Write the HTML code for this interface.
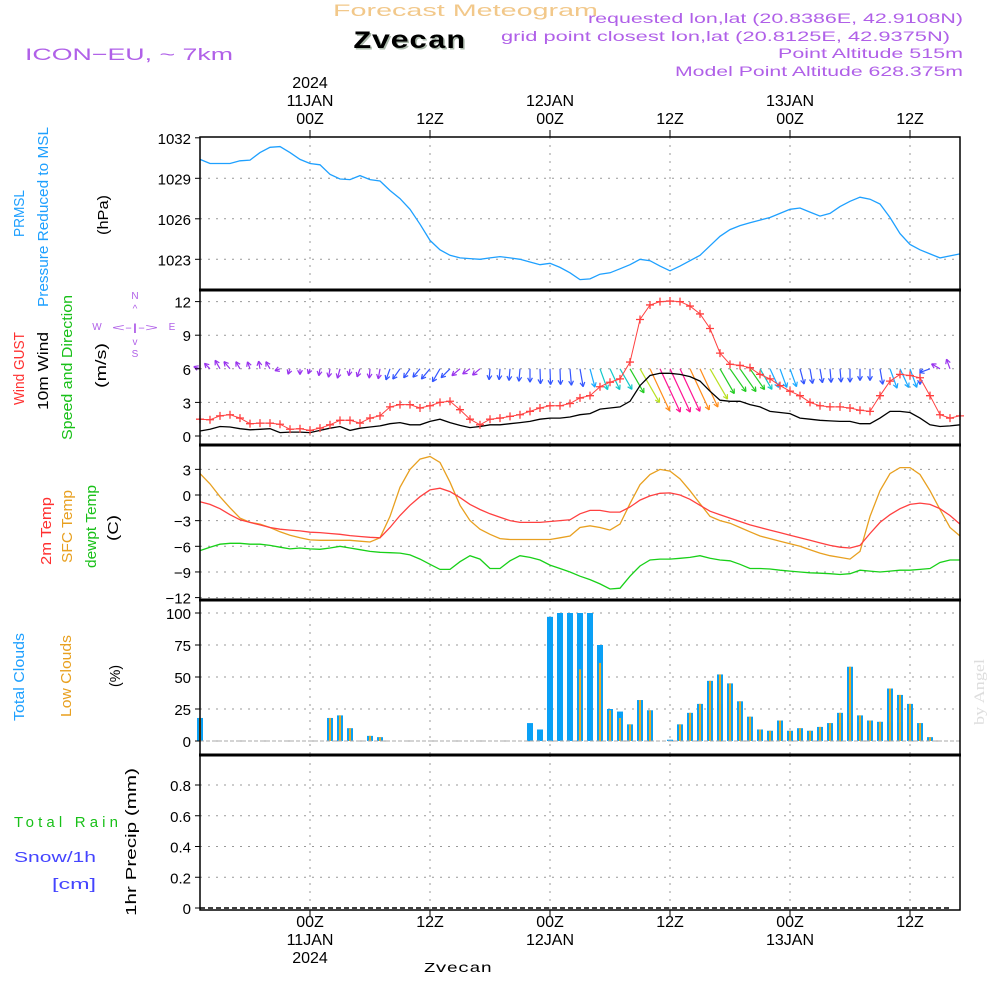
<!DOCTYPE html>
<html><head><meta charset="utf-8">
<style>
html,body{margin:0;padding:0;background:#fff;}
svg{display:block;font-family:"Liberation Sans",sans-serif;}
</style></head>
<body>
<svg id="chart" width="1000" height="1000" viewBox="0 0 1000 1000" xmlns="http://www.w3.org/2000/svg">
<rect width="1000" height="1000" fill="#fff"/>
<text x="333" y="16" font-size="17" fill="#f2c88a" textLength="265" lengthAdjust="spacingAndGlyphs">Forecast Meteogram</text>
<text x="353" y="48" font-size="25" font-weight="bold" font-family="Liberation Mono, monospace" fill="#aab8aa" textLength="112" lengthAdjust="spacingAndGlyphs" transform="translate(1.5,1.5)">Zvecan</text>
<text x="353" y="48" font-size="25" font-weight="bold" font-family="Liberation Mono, monospace" fill="#000" textLength="112" lengthAdjust="spacingAndGlyphs">Zvecan</text>
<text x="25" y="60" font-size="17" fill="#b060e8" textLength="208" lengthAdjust="spacingAndGlyphs">ICON−EU, ~ 7km</text>
<g fill="#b060e8" font-size="14" text-anchor="end">
<text x="963" y="23" textLength="375" lengthAdjust="spacingAndGlyphs">requested lon,lat (20.8386E, 42.9108N)</text>
<text x="950" y="41" textLength="449" lengthAdjust="spacingAndGlyphs">grid point closest lon,lat (20.8125E, 42.9375N)</text>
<text x="963" y="58" textLength="185" lengthAdjust="spacingAndGlyphs">Point Altitude 515m</text>
<text x="963" y="76" textLength="288" lengthAdjust="spacingAndGlyphs">Model Point Altitude 628.375m</text>
</g>
<g id="grid"></g>
<g id="series"></g>
<g id="frame"></g>
<g id="labels" font-size="16" fill="#000"></g>
</svg>
<script>
// ===== data (hourly, first point = 13Z 10 JAN, x-step = 1 hour) =====
const startHour = -11; // hours relative to 00Z 11JAN
const pressure = [1030.4,1030.1,1030.1,1030.1,1030.3,1030.35,1030.9,1031.3,1031.35,1030.9,1030.4,1030.1,1030.0,1029.3,1028.95,1028.9,1029.2,1028.9,1028.8,1028.1,1027.5,1026.7,1025.6,1024.4,1023.7,1023.3,1023.1,1023.05,1023.0,1023.1,1023.2,1023.1,1023.0,1022.8,1022.6,1022.7,1022.4,1022.0,1021.5,1021.55,1021.9,1022.0,1022.3,1022.6,1023.0,1022.9,1022.5,1022.15,1022.5,1022.9,1023.3,1024.0,1024.7,1025.2,1025.5,1025.7,1025.9,1026.1,1026.4,1026.7,1026.8,1026.5,1026.2,1026.4,1026.9,1027.3,1027.6,1027.45,1027.1,1026.1,1024.9,1024.1,1023.7,1023.4,1023.1,1023.25,1023.4];
const windGust = [1.5,1.45,1.8,1.9,1.6,1.1,1.15,1.15,1.05,0.6,0.65,0.5,0.7,1.0,1.4,1.4,1.15,1.6,1.8,2.6,2.8,2.8,2.5,2.7,3.0,3.1,2.35,1.5,1.0,1.5,1.6,1.75,1.9,2.2,2.5,2.7,2.7,2.9,3.4,3.6,4.4,4.8,5.1,6.6,10.4,11.7,12.0,12.05,12.0,11.6,10.9,9.6,7.4,6.4,6.3,6.1,5.5,5.1,4.5,4.0,3.6,3.0,2.7,2.6,2.6,2.5,2.3,2.2,3.6,4.9,5.5,5.4,5.2,3.6,1.9,1.6,1.8];
const windSpeed = [0.45,0.6,0.85,0.8,0.65,0.55,0.6,0.65,0.3,0.35,0.35,0.3,0.5,0.7,0.85,0.5,0.7,0.8,0.9,1.1,1.2,1.0,1.0,1.3,1.5,1.2,0.95,0.75,0.85,1.0,1.0,1.1,1.2,1.3,1.5,1.6,1.6,1.7,1.9,2.0,2.4,2.5,2.6,3.1,4.5,5.4,5.6,5.6,5.5,5.3,4.9,4.0,3.2,3.1,3.1,2.8,2.6,2.2,2.1,2.0,1.6,1.5,1.4,1.35,1.3,1.3,1.1,1.1,1.6,2.2,2.2,2.1,1.6,1.0,0.85,0.9,1.0];
const windDir = [290,315,330,320,330,340,350,330,250,200,180,200,190,190,195,190,200,185,190,200,215,215,220,220,210,225,230,235,230,185,185,185,185,180,178,178,178,175,170,165,160,155,150,150,150,155,155,155,155,155,155,150,150,145,145,145,150,155,160,160,165,170,170,175,175,180,180,180,170,160,155,160,180,250,300,340];
const temp2m = [-0.8,-1.1,-1.6,-2.3,-2.9,-3.2,-3.5,-3.8,-4.0,-4.1,-4.2,-4.35,-4.4,-4.5,-4.6,-4.75,-4.85,-4.95,-5.0,-3.8,-2.4,-1.2,-0.2,0.6,0.8,0.4,-0.3,-1.1,-1.7,-2.2,-2.6,-3.0,-3.2,-3.2,-3.2,-3.1,-3.0,-2.9,-2.2,-1.8,-1.8,-2.0,-2.0,-1.4,-0.6,-0.1,0.2,0.25,0.0,-0.5,-1.2,-1.9,-2.3,-2.7,-3.1,-3.5,-3.8,-4.1,-4.4,-4.7,-5.0,-5.3,-5.6,-5.9,-6.1,-6.2,-5.9,-4.5,-3.2,-2.3,-1.6,-1.1,-0.95,-1.1,-1.6,-2.4,-3.4];
const tempSfc = [2.5,1.3,-0.2,-1.5,-2.7,-3.2,-3.4,-3.8,-4.3,-4.7,-5.0,-5.25,-5.3,-5.3,-5.3,-5.3,-5.4,-5.5,-5.0,-2.5,0.9,3.0,4.2,4.5,3.8,1.5,-1.2,-3.0,-4.0,-4.6,-5.1,-5.2,-5.2,-5.2,-5.2,-5.2,-5.0,-4.8,-3.8,-3.6,-3.8,-4.1,-3.4,-1.0,1.2,2.4,3.0,2.8,1.9,0.5,-1.0,-2.5,-3.0,-3.3,-3.8,-4.3,-4.8,-5.1,-5.4,-5.7,-6.0,-6.4,-6.8,-7.1,-7.3,-7.5,-6.6,-2.5,0.5,2.5,3.2,3.2,2.4,0.5,-1.7,-3.8,-4.8];
const dewpt = [-6.5,-6.1,-5.75,-5.65,-5.65,-5.75,-5.75,-5.9,-6.1,-6.3,-6.2,-6.3,-6.35,-6.2,-6.0,-6.2,-6.4,-6.6,-6.7,-6.75,-6.8,-7.0,-7.5,-8.1,-8.7,-8.7,-7.8,-7.1,-7.5,-8.6,-8.6,-7.7,-7.1,-7.3,-7.6,-8.2,-8.6,-9.0,-9.5,-9.9,-10.4,-11.0,-10.9,-9.5,-8.3,-7.6,-7.5,-7.5,-7.4,-7.3,-7.1,-7.4,-7.6,-7.7,-8.1,-8.6,-8.6,-8.65,-8.8,-8.9,-9.0,-9.1,-9.15,-9.2,-9.3,-9.2,-8.8,-8.9,-9.0,-8.9,-8.8,-8.8,-8.7,-8.6,-7.9,-7.6,-7.6];
const totalClouds = [18,0,0,0,0,0,0,0,0,0,0,0,0,18,20,10,0,4,3,0,0,0,0,0,0,0,0,0,0,0,0,0,0,14,9,97,100,100,100,100,75,25,23,13,32,24,0,1,13,22,29,47,52,45,31,19,9,8,16,8,10,8,11,14,22,58,20,16,15,41,36,29,14,3,0,0];
const lowClouds = [18,0,0,0,0,0,0,0,0,0,0,0,0,18,20,10,0,4,3,0,0,0,0,0,0,0,0,0,0,0,0,0,0,0,0,0,0,0,56,0,61,24,18,13,32,24,0,0,13,22,29,47,52,45,31,19,9,8,16,8,10,8,11,14,22,58,20,16,15,41,36,29,14,3,0,0];
const precip = new Array(76).fill(0);
const pressTicks = [1023,1026,1029,1032];
const windTicks = [0,3,6,9,12];
const tempTicks = [-12,-9,-6,-3,0,3];
const cloudTicks = [0,25,50,75,100];
const precipTicks = [0,0.2,0.4,0.6,0.8];
const precipTickLabels = ["0","0.2","0.4","0.6","0.8"];
const timeTicks = [0,12,24,36,48,60];
const topLabels = [["2024","11JAN","00Z"],["","","12Z"],["","12JAN","00Z"],["","","12Z"],["","13JAN","00Z"],["","","12Z"]];
const bottomLabels = [["00Z","11JAN","2024"],["12Z","",""],["00Z","12JAN",""],["12Z","",""],["00Z","13JAN",""],["12Z","",""]];

// ===== axes =====
const NS="http://www.w3.org/2000/svg";
const X0=200,X1=960;
const xH = h => 310 + h*10;           // hours rel. 00Z 11JAN
const xI = i => xH(startHour + i);
const yP = v => 259.3 - (v-1023)*13.5;
const yW = v => 436 - v*11.2;
const yT = v => 495 - v*8.55;
const yC = v => 741 - v*1.28;
const yR = v => 908 - v*153.75;
const panels=[{t:137,b:290,y:yP,ticks:pressTicks},{t:290,b:445,y:yW,ticks:windTicks},{t:445,b:600,y:yT,ticks:tempTicks},{t:600,b:755,y:yC,ticks:cloudTicks},{t:755,b:910,y:yR,ticks:precipTicks}];
function mk(tag,attrs,parent){const e=document.createElementNS(NS,tag);for(const k in attrs)e.setAttribute(k,attrs[k]);parent.appendChild(e);return e;}
const G=document.getElementById('grid'),S=document.getElementById('series'),F=document.getElementById('frame'),L=document.getElementById('labels');

// grid
panels.forEach((p,pi)=>{
  timeTicks.forEach(h=>{const l=mk('line',{x1:xH(h),x2:xH(h),y1:p.t,y2:p.b,stroke:'#999','stroke-dasharray':'2,6'},G);
    });
  p.ticks.forEach((v,ti)=>{const y=p.y(v);
    if(y>p.t+2&&y<p.b-2){const l=mk('line',{x1:X0,x2:X1,y1:y,y2:y,stroke:'#999','stroke-dasharray':'2,6'},G);
      }
    const tk=mk('line',{x1:X0-5,x2:X0,y1:y,y2:y,stroke:'#000'},F);
    
    const tx=mk('text',{x:X0-9,y:y+6,'text-anchor':'end','font-size':15},L);
    tx.textContent = pi===4 ? precipTickLabels[ti] : (v<0?'−'+(-v):String(v));
    
  });
});

function line(arr,yf,color,name,w){
  const d=arr.map((v,i)=>(i?'L':'M')+xI(i).toFixed(1)+','+yf(v).toFixed(1)).join('');
  const p=mk('path',{d:d,fill:'none',stroke:color,'stroke-width':w||1.3},S);
  
}
// pressure
line(pressure,yP,'#1ea0ff','pressure-line');
// wind arrows
function spdColor(s){if(s<1)return'#9933ee';if(s<2)return'#3355ff';if(s<2.3)return'#1aa8ff';if(s<2.8)return'#10c8c8';if(s<3.5)return'#22cc22';if(s<4.7)return'#b8e020';if(s<5.45)return'#ff8c1a';return'#ff1493';}
windDir.forEach((a,i)=>{
  const s=windSpeed[i],len=3+8*s,r=a*Math.PI/180;
  const x=xI(i),y=yW(6),x2=x+Math.sin(r)*len,y2=y-Math.cos(r)*len;
  const c=spdColor(s);
  const g=mk('g',{stroke:c,'stroke-width':1.2,fill:'none'},S);
  
  
  mk('line',{x1:x,y1:y,x2:x2,y2:y2},g);
  const hl=5,ha=0.5;
  [r+Math.PI-ha,r+Math.PI+ha].forEach(b=>mk('line',{x1:x2,y1:y2,x2:x2+Math.sin(b)*hl,y2:y2-Math.cos(b)*hl},g));
});
line(windSpeed,yW,'#000','wind-speed-line');
line(windGust,yW,'#ff4040','wind-gust-line',1);
windGust.forEach((v,i)=>{const x=xI(i),y=yW(v);
  const m=mk('path',{d:`M${x-4},${y}H${x+4}M${x},${y-4}V${y+4}`,stroke:'#ff4040','stroke-width':1.3},S);
  });
// temps
line(tempSfc,yT,'#e8a020','sfc-temp-line');
line(temp2m,yT,'#ff4040','2m-temp-line');
line(dewpt,yT,'#18d018','dewpoint-line');
// clouds
totalClouds.forEach((v,i)=>{
  const x=xI(i);
  if(v>0){const b=mk('rect',{x:x-3,y:yC(v),width:6,height:yC(0)-yC(v),fill:'#0aa0f5'},S);
    }
  const lv=lowClouds[i];
  if(lv>0){const b=mk('rect',{x:x-1,y:yC(lv),width:2,height:yC(0)-yC(lv),fill:'#e8a828'},S);
    }
});
{const b=mk('line',{x1:X0,x2:X1,y1:yC(0),y2:yC(0),stroke:'#aaa','stroke-dasharray':'4,2'},S);
 }
// precip
{const d=precip.map((v,i)=>(i?'L':'M')+xI(i)+','+yR(v)).join('');
 const p=mk('path',{d:d,fill:'none',stroke:'#000','stroke-width':1.5,'stroke-dasharray':'5,3'},S);
 }

// frame
{const r=mk('rect',{x:X0,y:137,width:X1-X0,height:773,fill:'none',stroke:'#000','stroke-width':1.5},F);
 }
[290,445,600,755].forEach(y=>{const l=mk('line',{x1:X0-1,x2:X1+1,y1:y,y2:y,stroke:'#000','stroke-width':3},F);
  });
timeTicks.forEach(h=>{
  const t=mk('line',{x1:xH(h),x2:xH(h),y1:130,y2:137,stroke:'#000'},F);
  
  const b=mk('line',{x1:xH(h),x2:xH(h),y1:910,y2:917,stroke:'#000'},F);
  
});
timeTicks.forEach((h,k)=>{
  [88,106,124].forEach((y,j)=>{const s=topLabels[k][j];if(!s)return;
    const t=mk('text',{x:xH(h),y:y,'text-anchor':'middle','font-size':16},L);t.textContent=s;
    });
  [927,945,963].forEach((y,j)=>{const s=bottomLabels[k][j];if(!s)return;
    const t=mk('text',{x:xH(h),y:y,'text-anchor':'middle','font-size':16},L);t.textContent=s;
    });
});
</script>
<svg style="position:absolute;left:0;top:0" width="1000" height="1000" font-family="Liberation Sans, sans-serif">
<g font-size="15">
<text transform="translate(24,237) rotate(-90)" fill="#1ea0ff" textLength="47" lengthAdjust="spacingAndGlyphs">PRMSL</text>
<text transform="translate(48,307) rotate(-90)" fill="#1ea0ff" textLength="180" lengthAdjust="spacingAndGlyphs">Pressure Reduced to MSL</text>
<text transform="translate(108,235) rotate(-90)" fill="#000" textLength="40" lengthAdjust="spacingAndGlyphs">(hPa)</text>
<text transform="translate(24,405) rotate(-90)" fill="#ff3030" textLength="73" lengthAdjust="spacingAndGlyphs">Wind GUST</text>
<text transform="translate(48,410) rotate(-90)" fill="#000" textLength="78" lengthAdjust="spacingAndGlyphs">10m Wind</text>
<text transform="translate(72,440) rotate(-90)" fill="#18c018" textLength="145" lengthAdjust="spacingAndGlyphs">Speed and Direction</text>
<text transform="translate(106,388) rotate(-90)" fill="#000" textLength="45" lengthAdjust="spacingAndGlyphs">(m/s)</text>
<text transform="translate(51,565) rotate(-90)" fill="#ff3030" textLength="68" lengthAdjust="spacingAndGlyphs">2m Temp</text>
<text transform="translate(72,563) rotate(-90)" fill="#e8a020" textLength="73" lengthAdjust="spacingAndGlyphs">SFC Temp</text>
<text transform="translate(96,568) rotate(-90)" fill="#18c018" textLength="83" lengthAdjust="spacingAndGlyphs">dewpt Temp</text>
<text transform="translate(118,541) rotate(-90)" fill="#000" textLength="26" lengthAdjust="spacingAndGlyphs">(C)</text>
<text transform="translate(24,721) rotate(-90)" fill="#1ea0ff" textLength="88" lengthAdjust="spacingAndGlyphs">Total Clouds</text>
<text transform="translate(71,717) rotate(-90)" fill="#e8a020" textLength="82" lengthAdjust="spacingAndGlyphs">Low Clouds</text>
<text transform="translate(120,687) rotate(-90)" fill="#000" textLength="22" lengthAdjust="spacingAndGlyphs">(%)</text>
<text transform="translate(136,916) rotate(-90)" fill="#000" textLength="148" lengthAdjust="spacingAndGlyphs">1hr Precip (mm)</text>
<text x="14" y="827" fill="#18c018" textLength="104" lengthAdjust="spacing">Total   Rain</text>
<text x="14" y="862" fill="#4444ff" textLength="82" lengthAdjust="spacingAndGlyphs">Snow/1h</text>
<text x="52" y="889" fill="#4444ff" textLength="44" lengthAdjust="spacingAndGlyphs">[cm]</text>
</g>
<g fill="#b060e8" font-size="10" text-anchor="middle">
<text x="135" y="299">N</text>
<text x="135" y="312">^</text>
<text x="135" y="331" textLength="46" lengthAdjust="spacingAndGlyphs">&lt;-|-&gt;</text>
<text x="135" y="345">v</text>
<text x="135" y="357">S</text>
<text x="97" y="330">W</text>
<text x="172" y="330">E</text>
</g>
<text x="424" y="972" font-size="14" font-family="Liberation Mono, monospace" fill="#000" textLength="68" lengthAdjust="spacingAndGlyphs">Zvecan</text>
<text transform="translate(984,725) rotate(-90)" font-size="15" font-family="Liberation Serif, serif" fill="#dddddd" textLength="66" lengthAdjust="spacingAndGlyphs">by Angel</text>
</svg>
</body></html>
